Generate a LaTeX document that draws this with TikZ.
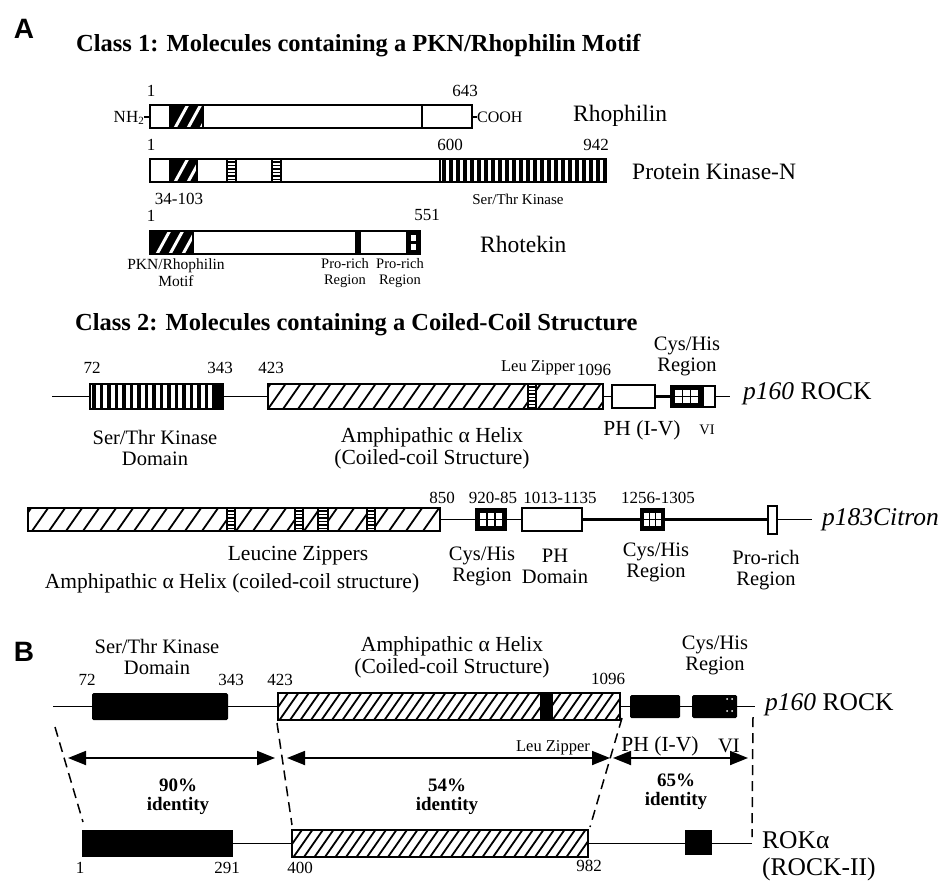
\documentclass[tikz,border=0pt]{standalone}
\usepackage{fontspec}
\setmainfont{Liberation Serif}
\newfontfamily\panelfont{Liberation Sans}
\usetikzlibrary{arrows.meta}
\tikzset{
  box/.style={draw=black,line width=1.8pt},
  wire/.style={line width=1.8pt},
  fatwire/.style={line width=3pt},
  hatchline/.style={line width=1.8pt},
  txt/.style={inner sep=0pt,align=center,font=\fontsize{20.5}{21}\selectfont},
  wide/.style={inner sep=0pt,align=center,font=\fontsize{21.5}{22}\selectfont},
  num/.style={inner sep=0pt,font=\fontsize{17}{18}\selectfont},
  small/.style={inner sep=0pt,align=center,font=\fontsize{14.5}{16}\selectfont},
  protname/.style={inner sep=0pt,anchor=west,font=\fontsize{23.5}{25}\selectfont},
  bigname/.style={inner sep=0pt,anchor=west,font=\fontsize{25.5}{30}\selectfont},
  head/.style={inner sep=0pt,anchor=west,font=\bfseries\fontsize{24.5}{26}\selectfont},
  panel/.style={inner sep=0pt,font=\panelfont\bfseries\fontsize{28}{30}\selectfont},
  pct/.style={inner sep=0pt,align=center,font=\bfseries\fontsize{19}{19}\selectfont},
  dline/.style={line width=1.5pt,dash pattern=on 10pt off 6pt},
  idarrow/.style={line width=1.8pt,{Triangle[length=18pt,width=14pt]}-{Triangle[length=18pt,width=14pt]}},
}
% hatched box: [spacing]{x1}{y1}{x2}{y2}
\newcommand\hatchrect[5][13]{%
  \fill[white] (#2,#3) rectangle (#4,#5);
  \begin{scope}
    \clip (#2,#3) rectangle (#4,#5);
    \pgfmathsetmacro\hA{#2-30}%
    \pgfmathsetmacro\hB{#2-30+#1}%
    \pgfmathsetmacro\hD{0.7*(#5-#3)}%
    \pgfmathsetmacro\hH{#3-#5}%
    \foreach \hx in {\hA,\hB,...,#4}{\draw[hatchline] (\hx,#5) -- ++(\hD,\hH);}
  \end{scope}
  \draw[box] (#2,#3) rectangle (#4,#5);}
% black motif block with white stripes
\newcommand\motif[4]{%
  \fill (#1,#2) rectangle (#3,#4);
  \begin{scope}
    \clip (#1,#2) rectangle (#3,#4);
    \pgfmathsetmacro\mA{#1+5}%
    \pgfmathsetmacro\mB{#1+5+13}%
    \pgfmathsetmacro\mD{0.55*(#4-#2)}%
    \pgfmathsetmacro\mH{#2-#4}%
    \foreach \mx in {\mA,\mB,...,#3}{\draw[white,line width=3pt] (\mx,#4) -- ++(\mD,\mH);}
  \end{scope}
  \draw[box] (#1,#2) rectangle (#3,#4);}
% vertical stripes: {x1}{y1}{x2}{y2}{spacing}
\newcommand\vstripes[5]{%
  \fill[white] (#1,#2) rectangle (#3,#4);
  \pgfmathsetmacro\vA{#1+4}%
  \pgfmathsetmacro\vB{#1+4+#5}%
  \foreach \vx in {\vA,\vB,...,#3}{\draw[line width=3.2pt] (\vx,#2) -- (\vx,#4);}
  \draw[box] (#1,#2) rectangle (#3,#4);}
% horizontal stripes block
\newcommand\hstripes[4]{%
  \fill[white] (#1,#2) rectangle (#3,#4);
  \pgfmathsetmacro\sA{#2+3}%
  \pgfmathsetmacro\sB{#2+6.5}%
  \foreach \sy in {\sA,\sB,...,#4}{\draw[line width=1.3pt] (#1,\sy) -- (#3,\sy);}
  \draw[line width=1.3pt] (#1,#2) rectangle (#3,#4);}
% Cys/His grid block
\newcommand\cysgrid[4]{%
  \fill (#1,#2) rectangle (#3,#4);
  \pgfmathsetmacro\gw{#3-#1}%
  \pgfmathsetmacro\gh{#4-#2}%
  \foreach \gi in {1,2,3}{\foreach \gj in {1,2}{%
    \fill[white] ({#1+\gi*\gw/4-0.1*\gw},{#2+\gj*\gh/3-0.13*\gh}) rectangle ++({0.2*\gw},{0.26*\gh});}}}

\begin{document}
\begin{tikzpicture}[x=1pt,y=-1pt]
\useasboundingbox (0,0) rectangle (944,883);
\fill[white] (0,0) rectangle (944,883);

% ---------------- Panel A ----------------
\node[panel] (pA) at (24,29) {A};
\node[head] (h1) at (76,46) {Class 1: Molecules containing a PKN/Rhophilin Motif};

% Rhophilin
\draw[box,fill=white] (150,105) rectangle (472,128);
\draw[box] (422,105) -- (422,128);
\motif{170}{105}{203}{128}
\draw[line width=1.2pt] (144,117) -- (150,117);
\draw[line width=1.2pt] (472,117) -- (477,117);
\node[num] (r1) at (151,91) {1};
\node[num] (r643) at (465,91) {643};
\node[num,anchor=east] (nh2) at (144,118) {NH\raisebox{-0.35ex}{\fontsize{11}{11}\selectfont 2}};
\node[num,anchor=west,font=\fontsize{16}{17}\selectfont] (cooh) at (477,117) {COOH};
\node[protname] (rhoph) at (573,116) {Rhophilin};

% Protein kinase N
\draw[box,fill=white] (150,159) rectangle (606,182);
\motif{170}{159}{197}{182}
\hstripes{227}{159}{236}{182}
\hstripes{272}{159}{281}{182}
\vstripes{440}{159}{606}{182}{7}
\node[num] (p1) at (151,145) {1};
\node[num] (p600) at (450,145) {600};
\node[num] (p942) at (596,145) {942};
\node[num] (p34) at (179,199) {34-103};
\node[small,font=\fontsize{15}{16}\selectfont] (pser) at (518,199) {Ser/Thr Kinase};
\node[protname] (pkn) at (632,172) {Protein Kinase-N};

% Rhotekin
\draw[box,fill=white] (150,231) rectangle (420,254);
\motif{152}{231}{193}{254}
\fill (355,231) rectangle (361,254);
\fill (407,231) rectangle (420,254);
\fill[white] (411,235) rectangle (416,241);
\fill[white] (411,244) rectangle (416,250);
\draw[box] (407,231) rectangle (420,254);
\node[num] (t1) at (151,216) {1};
\node[num] (t551) at (427,215) {551};
\node[protname] (rhot) at (480,244) {Rhotekin};
\node[small,font=\fontsize{15.5}{17}\selectfont] (tmot) at (176,273) {PKN/Rhophilin\\Motif};
\node[small] (tpro1) at (345,273) {Pro-rich\\Region};
\node[small] (tpro2) at (400,273) {Pro-rich\\Region};

\node[head] (h2) at (75,325) {Class 2: Molecules containing a Coiled-Coil Structure};

% p160 ROCK (A)
\draw[wire] (52,396.5) -- (90,396.5);
\vstripes{90}{384}{223}{409}{7.5}
\fill (213,384) rectangle (223,409);
\draw[wire] (223,396.5) -- (268,396.5);
\hatchrect[15]{268}{384}{603}{409}
\hstripes{528}{384}{536}{409}
\draw[wire] (603,396.5) -- (612,396.5);
\draw[box,fill=white] (612,385) rectangle (655,408);
\draw[fatwire] (655,396.5) -- (670,396.5);
\cysgrid{670}{385}{703}{408}
\draw[box,fill=white] (703,386) rectangle (715,407);
\draw[wire] (715,396.5) -- (730,396.5);
\node[num] (k72) at (92,368) {72};
\node[num] (k343) at (220,368) {343};
\node[num] (k423) at (271,368) {423};
\node[small,font=\fontsize{16.5}{17}\selectfont] (kleu) at (538,368) {Leu Zipper};
\node[num] (k1096) at (594,370) {1096};
\node[txt] (kcys) at (687,356) {Cys/His\\Region};
\node[bigname] (rock) at (743,394) {\textit{p160} ROCK};
\node[wide] (kph) at (642,430) {PH (I-V)};
\node[small] (kvi) at (707,430) {VI};
\node[txt] (kser) at (155,448) {Ser/Thr Kinase\\Domain};
\node[wide] (kamph) at (432,448) {Amphipathic α Helix\\(Coiled-coil Structure)};

% p183 Citron
\hatchrect[17]{28}{508}{440}{531}
\hstripes{227}{508}{235}{531}
\hstripes{295}{508}{303}{531}
\hstripes{318}{508}{328}{531}
\hstripes{367}{508}{375}{531}
\draw[wire] (440,519.5) -- (475,519.5);
\cysgrid{475}{508}{507}{531}
\draw[wire] (507,519.5) -- (522,519.5);
\draw[box,fill=white] (522,508) rectangle (582,531);
\draw[fatwire] (582,519.5) -- (640,519.5);
\cysgrid{640}{508}{665}{531}
\draw[fatwire] (665,519.5) -- (768,519.5);
\draw[box,fill=white] (768,506) rectangle (777,534);
\draw[wire] (777,519.5) -- (812,519.5);
\node[num] (c850) at (442,498) {850};
\node[num] (c920) at (493,498) {920-85};
\node[num] (c1013) at (560,498) {1013-1135};
\node[num] (c1256) at (658,498) {1256-1305};
\node[wide] (cleu) at (298,556) {Leucine Zippers};
\node[wide] (camph) at (232,583) {Amphipathic α Helix (coiled-coil structure)};
\node[txt] (ccys1) at (482,566) {Cys/His\\Region};
\node[txt] (cph) at (555,566) {PH\\Domain};
\node[txt] (ccys2) at (656,562) {Cys/His\\Region};
\node[txt] (cpro) at (766,570) {Pro-rich\\Region};
\node[bigname] (citron) at (822,520) {\textit{p183Citron}};

% ---------------- Panel B ----------------
\node[panel] (pB) at (24,652) {B};
\node[txt] (bser) at (157,657) {Ser/Thr Kinase\\Domain};
\node[wide] (bamph) at (452,657) {Amphipathic α Helix\\(Coiled-coil Structure)};
\node[txt] (bcys) at (715,655) {Cys/His\\Region};

% p160 ROCK (B)
\draw[wire] (53,706.5) -- (92,706.5);
\fill[rounded corners=1.5pt] (92,693) rectangle (228,720);
\draw[wire] (228,706.5) -- (278,706.5);
\hatchrect[10.5]{278}{693}{620}{720}
\fill (540,693) rectangle (553,720);
\draw[wire] (620,706.5) -- (630,706.5);
\fill[rounded corners=1.5pt] (630,695) rectangle (680,718);
\draw[wire] (680,706.5) -- (692,706.5);
\fill[rounded corners=1.5pt] (692,695) rectangle (737,718);
\fill[white] (727,699) circle (1pt) (732,699) circle (1pt) (727,711) circle (1pt) (732,711) circle (1pt);
\draw[wire] (737,706.5) -- (755,706.5);
\node[num] (b72) at (87,680) {72};
\node[num] (b343) at (231,680) {343};
\node[num] (b423) at (280,680) {423};
\node[num] (b1096) at (608,679) {1096};
\node[bigname] (brock) at (765,705) {\textit{p160} ROCK};

% ROK alpha
\fill (82,830) rectangle (233,857);
\draw[wire] (233,843.5) -- (292,843.5);
\hatchrect[10.5]{292}{830}{588}{857}
\draw[wire] (588,843.5) -- (752,843.5);
\fill (685,830) rectangle (712,855);
\node[num] (o1) at (80,868) {1};
\node[num] (o291) at (227,868) {291};
\node[num] (o400) at (300,868) {400};
\node[num] (o982) at (589,866) {982};
\node[bigname] (rok) at (762,840) {ROKα};
\node[bigname] (rock2) at (762,869) {(ROCK-II)};

% dashed correspondence lines
\coordinate (d1a) at (55,727); \coordinate (d1b) at (83,822);
\coordinate (d2a) at (277,723); \coordinate (d2b) at (292,825);
\coordinate (d3a) at (622,718); \coordinate (d3b) at (590,827);
\coordinate (d4a) at (753,717); \coordinate (d4b) at (752,837);
\draw[dline] (d1a) -- (d1b);
\draw[dline] (d2a) -- (d2b);
\draw[dline] (d3a) -- (d3b);
\draw[dline] (d4a) -- (d4b);

% identity arrows
\coordinate (a1l) at (68,758); \coordinate (a1r) at (275,758);
\coordinate (a2l) at (287,758); \coordinate (a2r) at (610,758);
\coordinate (a3l) at (613,758); \coordinate (a3r) at (748,758);
\draw[idarrow] (a1l) -- (a1r);
\draw[idarrow] (a2l) -- (a2r);
\draw[idarrow] (a3l) -- (a3r);
\node[small,font=\fontsize{16.5}{17}\selectfont] (bleu) at (553,748) {Leu Zipper};
\node[wide] (bph) at (660,746) {PH (I-V)};
\node[txt] (bvi) at (729,746) {VI};
\node[pct] (i90) at (178,797) {90\%\\identity};
\node[pct] (i54) at (447,797) {54\%\\identity};
\node[pct] (i65) at (676,792) {65\%\\identity};
\end{tikzpicture}
\end{document}
